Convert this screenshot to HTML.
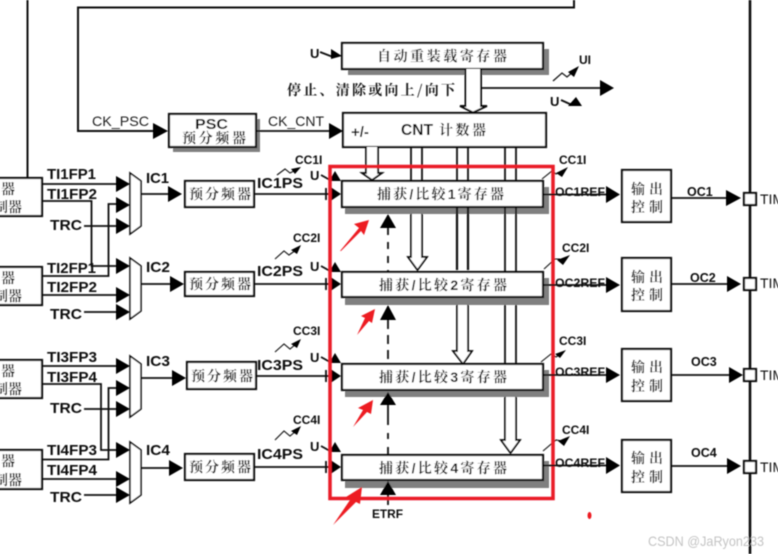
<!DOCTYPE html>
<html>
<head>
<meta charset="utf-8">
<style>
html,body{margin:0;padding:0;background:#fff;width:778px;height:554px;overflow:hidden}
svg{display:block}
.c{font-family:"Noto Serif CJK SC","Liberation Serif",serif;font-size:14px;fill:#1c1c1c;font-weight:700}
.c tspan{font-family:"Liberation Sans",sans-serif;font-weight:bold;fill:#111}
.l{font-family:"Liberation Sans",sans-serif;font-weight:bold;font-size:15px;fill:#111}
.s{font-family:"Liberation Sans",sans-serif;font-weight:bold;font-size:12px;fill:#111}
.w{fill:none;stroke:#111;stroke-width:1.8}
.b{fill:#fff;stroke:#111;stroke-width:2.2}
.sh{fill:#808080}
.h{fill:#000}
.d{fill:#fff;stroke:#111;stroke-width:1.8}
</style>
</head>
<body>
<svg width="778" height="554" viewBox="0 0 778 554" xmlns="http://www.w3.org/2000/svg">
<defs><filter id="bl" x="-2%" y="-2%" width="104%" height="104%"><feGaussianBlur stdDeviation="0.45"/></filter></defs>
<g filter="url(#bl)">
<!-- top wires -->
<path class="w" style="stroke-width:2" d="M27.5 0V178"/>
<path class="w" style="stroke-width:2" d="M574 0V7.5H78V131H155"/>
<path class="h" d="M153 123L168 131L153 139Z"/>
<path class="w" d="M750 0V554" style="stroke-width:2.6"/>

<!-- reload box -->
<rect class="sh" x="348" y="49" width="201" height="26"/>
<rect class="b" x="342" y="43" width="201" height="26"/>
<text class="c" x="377" y="61" textLength="130" lengthAdjust="spacing">自动重装载寄存器</text>
<text class="c" x="287" y="95" textLength="168" lengthAdjust="spacing">停止、清除或向上/向下</text>
<text class="s" x="310" y="58" style="font-size:13px">U</text>
<path class="w" d="M320 52L333 57"/><path class="h" d="M331 49L342 56L331 59Z"/>

<!-- reload to cnt double arrow -->
<path class="d" style="stroke-width:2" d="M465.5 69V106H460L473 112.5L487 106H481V69"/>
<path class="w" style="stroke-width:1.8" d="M481 88H601"/>
<path class="h" d="M600 80L614 88L600 96Z"/>
<text class="s" x="579" y="64" style="font-size:12px">UI</text>
<path class="w" style="stroke-width:1.2" d="M553 81L562 73L567 77L574 71"/><path class="h" d="M579 66L574 77L568 72Z"/>
<text class="s" x="550" y="106" style="font-size:13px">U</text>
<path class="w" d="M561 100L572 105"/><path class="h" d="M576 97L582 106L568 106Z"/>

<!-- CNT -->
<rect class="b" x="343" y="113" width="203" height="34"/>
<text class="l" x="351" y="137" style="font-size:15px">+/-</text>
<text class="l" x="401" y="135" style="font-size:15.500px" textLength="32" lengthAdjust="spacingAndGlyphs">CNT</text>
<text class="c" x="439" y="135" textLength="47" lengthAdjust="spacing">计数器</text>

<!-- PSC -->
<rect class="sh" x="173" y="119" width="87" height="33"/>
<rect class="b" x="169" y="114" width="87" height="33"/>
<text class="l" x="195" y="129" style="font-size:14.500px" textLength="33" lengthAdjust="spacingAndGlyphs">PSC</text>
<text class="c" x="182" y="143" textLength="64" lengthAdjust="spacing" style="font-size:14px">预分频器</text>
<text x="92" y="126" style="font-family:'Liberation Sans',sans-serif;font-size:14px;fill:#222" textLength="57" lengthAdjust="spacingAndGlyphs">CK_PSC</text>
<text x="268" y="126" style="font-family:'Liberation Sans',sans-serif;font-size:14px;fill:#222" textLength="56" lengthAdjust="spacingAndGlyphs">CK_CNT</text>
<path class="w" d="M256 131H330"/><path class="h" d="M329 123L343 131L329 139Z"/>

<!-- shadows for capture boxes -->
<rect class="sh" x="345" y="187" width="204" height="27"/>
<rect class="sh" x="345" y="278" width="204" height="27"/>
<rect class="sh" x="345" y="370" width="204" height="27"/>
<rect class="sh" x="345" y="461" width="204" height="27"/>

<!-- vertical buses -->
<path class="d" d="M366 147V173H362L372 180L382 173H378V147"/>
<path class="w" d="M411 147V181M422 147V181"/>
<path class="w" d="M457 147V181M468 147V181"/>
<path class="w" d="M505 147V181M516 147V181"/>
<path class="d" d="M411 214V257H408L417.500 270L427 257H422V214"/>
<path class="w" style="stroke-width:2.2" d="M457 208V270M468 208V270"/>
<path class="w" d="M505 208V272M516 208V272"/>
<path class="d" d="M457 305V351H453L463 364L472 351H468V305"/>
<path class="w" d="M505 305V364M516 305V364"/>
<path class="d" d="M505 397V440H501L510.500 453L520 440H516V397"/>

<!-- capture boxes -->
<rect class="b" x="342" y="181" width="201" height="26"/>
<rect class="b" x="342" y="272" width="201" height="25"/>
<rect class="b" x="342" y="364" width="201" height="26"/>
<rect class="b" x="342" y="455" width="201" height="25"/>
<text class="c" x="377" y="199" textLength="127" lengthAdjust="spacing">捕获<tspan>/</tspan>比较<tspan>1</tspan>寄存器</text>
<text class="c" x="379" y="290" textLength="128" lengthAdjust="spacing">捕获<tspan>/</tspan>比较<tspan>2</tspan>寄存器</text>
<text class="c" x="379" y="382" textLength="128" lengthAdjust="spacing">捕获<tspan>/</tspan>比较<tspan>3</tspan>寄存器</text>
<text class="c" x="379" y="473" textLength="128" lengthAdjust="spacing">捕获<tspan>/</tspan>比较<tspan>4</tspan>寄存器</text>

<!-- up arrows and dashes -->
<path class="h" d="M388 214L396 228H380Z"/>
<path class="h" d="M388 305L396 320H380Z"/>
<path class="h" d="M388 392L396 405H380Z"/>
<path class="h" d="M388 481L396 495H380Z"/>
<path class="w" d="M388 228V272" style="stroke-dasharray:7 7"/>
<path class="w" d="M388 320V364" style="stroke-dasharray:9 6"/>
<path class="w" d="M388 405V455" style="stroke-dasharray:20 8 6 8"/>
<path class="w" d="M388 495V505"/>
<text class="s" x="372" y="518" style="font-size:11.500px" textLength="31" lengthAdjust="spacingAndGlyphs">ETRF</text>

<!-- left cut boxes -->
<rect class="b" x="-3" y="178" width="45" height="38"/>
<rect class="b" x="-3" y="267" width="45" height="38"/>
<rect class="b" x="-3" y="360" width="45" height="38"/>
<rect class="b" x="-3" y="450" width="45" height="39"/>
<text class="c" x="1" y="194">器</text><text class="c" x="8" y="212">器</text><text class="c" x="-6" y="212">制</text>
<text class="c" x="1" y="283">器</text><text class="c" x="8" y="301">器</text><text class="c" x="-6" y="301">制</text>
<text class="c" x="1" y="376">器</text><text class="c" x="8" y="394">器</text><text class="c" x="-6" y="394">制</text>
<text class="c" x="1" y="466">器</text><text class="c" x="8" y="485">器</text><text class="c" x="-6" y="485">制</text>

<!-- input wires -->
<path class="w" d="M42 184H118"/>
<path class="w" d="M42 201H91.500V266H118"/>
<path class="w" d="M84 226H118"/>
<path class="w" d="M42 276H108.500V204H118"/>
<path class="w" d="M42 295H118"/>
<path class="w" d="M84 312H118"/>
<path class="w" d="M42 366H118"/>
<path class="w" d="M42 384H101V450H118"/>
<path class="w" d="M84 409H118"/>
<path class="w" d="M42 459.500H108.500V388H118"/>
<path class="w" d="M42 479H118"/>
<path class="w" d="M84 495H118"/>
<path class="h" d="M116 176L130 184L116 192Z"/><path class="h" d="M116 197L130 205L116 213Z"/><path class="h" d="M116 218L130 226L116 234Z"/>
<path class="h" d="M116 258L130 266L116 274Z"/><path class="h" d="M116 287L130 295L116 303Z"/><path class="h" d="M116 304L130 312L116 320Z"/>
<path class="h" d="M116 358L130 366L116 374Z"/><path class="h" d="M116 380L130 388L116 396Z"/><path class="h" d="M116 401L130 409L116 417Z"/>
<path class="h" d="M116 442L130 450L116 458Z"/><path class="h" d="M116 471L130 479L116 487Z"/><path class="h" d="M116 487L130 495L116 503Z"/>

<!-- muxes -->
<path class="b" style="stroke-width:1.6" d="M130 173L141 181V226L130 234Z"/>
<path class="b" style="stroke-width:1.6" d="M130 258L141 266V311L130 319Z"/>
<path class="b" style="stroke-width:1.6" d="M130 356L141 364V409L130 417Z"/>
<path class="b" style="stroke-width:1.6" d="M130 442L141 450V495L130 503Z"/>

<text class="l" x="47" y="179" textLength="49" lengthAdjust="spacingAndGlyphs">TI1FP1</text><text class="l" x="47" y="199" textLength="50" lengthAdjust="spacingAndGlyphs">TI1FP2</text><text class="l" x="50" y="230" textLength="32" lengthAdjust="spacingAndGlyphs">TRC</text>
<text class="l" x="47" y="273" textLength="49" lengthAdjust="spacingAndGlyphs">TI2FP1</text><text class="l" x="47" y="292" textLength="50" lengthAdjust="spacingAndGlyphs">TI2FP2</text><text class="l" x="50" y="319" textLength="32" lengthAdjust="spacingAndGlyphs">TRC</text>
<text class="l" x="47" y="362" textLength="50" lengthAdjust="spacingAndGlyphs">TI3FP3</text><text class="l" x="47" y="382" textLength="50" lengthAdjust="spacingAndGlyphs">TI3FP4</text><text class="l" x="50" y="413" textLength="32" lengthAdjust="spacingAndGlyphs">TRC</text>
<text class="l" x="47" y="455" textLength="50" lengthAdjust="spacingAndGlyphs">TI4FP3</text><text class="l" x="47" y="475" textLength="50" lengthAdjust="spacingAndGlyphs">TI4FP4</text><text class="l" x="50" y="502" textLength="32" lengthAdjust="spacingAndGlyphs">TRC</text>

<!-- IC labels and wires -->
<text class="l" x="146" y="183" textLength="23" lengthAdjust="spacingAndGlyphs">IC1</text><text class="l" x="146" y="272" textLength="24" lengthAdjust="spacingAndGlyphs">IC2</text><text class="l" x="146" y="366" textLength="24" lengthAdjust="spacingAndGlyphs">IC3</text><text class="l" x="146" y="455" textLength="24" lengthAdjust="spacingAndGlyphs">IC4</text>
<path class="w" d="M141 194H170"/><path class="h" d="M168 186L182 194L168 202Z"/>
<path class="w" d="M141 284H172"/><path class="h" d="M170 276L184 284L170 292Z"/>
<path class="w" d="M141 378H174"/><path class="h" d="M172 370L186 378L172 386Z"/>
<path class="w" d="M141 468H171"/><path class="h" d="M169 460L183 468L169 476Z"/>

<rect class="b" x="185" y="181" width="69" height="26"/>
<rect class="b" x="185" y="272" width="69" height="24"/>
<rect class="b" x="187" y="362" width="69" height="27"/>
<rect class="b" x="185" y="454" width="69" height="26"/>
<text class="c" x="189" y="199" textLength="62" lengthAdjust="spacing">预分频器</text>
<text class="c" x="189" y="289" textLength="62" lengthAdjust="spacing">预分频器</text>
<text class="c" x="191" y="381" textLength="62" lengthAdjust="spacing">预分频器</text>
<text class="c" x="189" y="472" textLength="62" lengthAdjust="spacing">预分频器</text>

<text class="l" x="257" y="188" textLength="46" lengthAdjust="spacingAndGlyphs">IC1PS</text>
<text class="l" x="257" y="276" textLength="46" lengthAdjust="spacingAndGlyphs">IC2PS</text>
<text class="l" x="257" y="370" textLength="46" lengthAdjust="spacingAndGlyphs">IC3PS</text>
<text class="l" x="257" y="459" textLength="46" lengthAdjust="spacingAndGlyphs">IC4PS</text>

<path class="w" d="M254 194H330M326 188V200"/><path class="h" d="M329 186L341 194L329 202Z"/>
<path class="w" d="M254 284H330M326 278V290"/><path class="h" d="M329 276L341 284L329 292Z"/>
<path class="w" d="M256 376H330M326 370V382"/><path class="h" d="M329 368L341 376L329 384Z"/>
<path class="w" d="M254 467H330M326 461V473"/><path class="h" d="M329 459L341 467L329 475Z"/>

<!-- U triggers -->
<text class="s" x="310" y="180" style="font-size:13px">U</text><path class="w" d="M321 175L330 180"/><path class="h" d="M335 171L341 181H329Z"/>
<text class="s" x="310" y="271" style="font-size:13px">U</text><path class="w" d="M321 266L330 271"/><path class="h" d="M335 262L341 272H329Z"/>
<text class="s" x="310" y="362" style="font-size:13px">U</text><path class="w" d="M321 357L330 362"/><path class="h" d="M335 353L341 363H329Z"/>
<text class="s" x="310" y="451" style="font-size:13px">U</text><path class="w" d="M321 446L330 451"/><path class="h" d="M335 442L341 452H329Z"/>

<!-- CC left -->
<text class="s" x="295" y="164">CC1I</text><path class="w" style="stroke-width:1.1" d="M277 175L285 169L290 173L296 170"/><path class="h" d="M301 167L295 174L291 169Z"/>
<text class="s" x="293" y="242">CC2I</text><path class="w" style="stroke-width:1.1" d="M275 259L284 251L289 255L296 250"/><path class="h" d="M301 245L297 254L291 250Z"/>
<text class="s" x="293" y="335">CC3I</text><path class="w" style="stroke-width:1.1" d="M275 352L284 344L290 349L296 344"/><path class="h" d="M301 339L297 348L291 344Z"/>
<text class="s" x="293" y="424">CC4I</text><path class="w" style="stroke-width:1.1" d="M275 440L284 431L290 436L296 431"/><path class="h" d="M301 426L297 435L291 431Z"/>

<!-- CC right -->
<text class="s" x="559" y="164">CC1I</text><path class="w" style="stroke-width:1.1" d="M542 179L552 171L556 174L562 171"/><path class="h" d="M568 167L562 177L556 173Z"/>
<text class="s" x="562" y="252">CC2I</text><path class="w" style="stroke-width:1.1" d="M544 269L555 259L560 259"/><path class="h" d="M570 255L563 265L557 260Z"/>
<text class="s" x="559" y="345">CC3I</text><path class="w" style="stroke-width:1.1" d="M541 362L551 354L556 357L561 354"/><path class="h" d="M566 350L560 358L555 354Z"/>
<text class="s" x="562" y="434">CC4I</text><path class="w" style="stroke-width:1.1" d="M543 451L556 440L562 441"/><path class="h" d="M570 436L564 446L558 441Z"/>

<!-- red frame -->
<rect x="330" y="166.500" width="223" height="332" fill="none" stroke="#ea1c28" stroke-width="3.500"/>

<!-- outputs -->
<path class="w" d="M543 194.500H608"/><path class="w" d="M543 285H608"/><path class="w" d="M543 375H608"/><path class="w" d="M543 465.500H608"/>
<text class="s" x="555" y="196" textLength="50" lengthAdjust="spacingAndGlyphs">OC1REF</text>
<text class="s" x="555" y="287" textLength="50" lengthAdjust="spacingAndGlyphs">OC2REF</text>
<text class="s" x="555" y="376" textLength="50" lengthAdjust="spacingAndGlyphs">OC3REF</text>
<text class="s" x="555" y="467" textLength="50" lengthAdjust="spacingAndGlyphs">OC4REF</text>
<path class="h" d="M606 186L620 194.500L606 203Z"/><path class="h" d="M606 277L620 285L606 293Z"/><path class="h" d="M606 367L620 375L606 383Z"/><path class="h" d="M606 457L620 465.500L606 474Z"/>

<rect class="b" x="622" y="170" width="49" height="52"/>
<rect class="b" x="622" y="258" width="49" height="53"/>
<rect class="b" x="622" y="349" width="49" height="52"/>
<rect class="b" x="622" y="440" width="49" height="52"/>
<text class="c" x="631" y="194" textLength="32" lengthAdjust="spacing">输出</text><text class="c" x="631" y="212" textLength="32" lengthAdjust="spacing">控制</text>
<text class="c" x="631" y="282" textLength="32" lengthAdjust="spacing">输出</text><text class="c" x="631" y="300" textLength="32" lengthAdjust="spacing">控制</text>
<text class="c" x="631" y="372" textLength="32" lengthAdjust="spacing">输出</text><text class="c" x="631" y="391" textLength="32" lengthAdjust="spacing">控制</text>
<text class="c" x="631" y="463" textLength="32" lengthAdjust="spacing">输出</text><text class="c" x="631" y="482" textLength="32" lengthAdjust="spacing">控制</text>

<path class="w" d="M671 198H728"/><path class="h" d="M726 190L741 198L726 206Z"/>
<path class="w" d="M671 284H729"/><path class="h" d="M727 276L741 284L727 292Z"/>
<path class="w" d="M671 375H730"/><path class="h" d="M729 367L743 375L729 383Z"/>
<path class="w" d="M671 466H729"/><path class="h" d="M727 458L741 466L727 474Z"/>
<text class="s" x="687" y="196" style="font-size:12.500px">OC1</text>
<text class="s" x="690" y="282" style="font-size:12.500px">OC2</text>
<text class="s" x="691" y="366" style="font-size:12.500px">OC3</text>
<text class="s" x="691" y="457" style="font-size:12.500px">OC4</text>
<rect class="b" x="744" y="193" width="12" height="12"/>
<rect class="b" x="744" y="278" width="12" height="12"/>
<rect class="b" x="744" y="369" width="12" height="12"/>
<rect class="b" x="744" y="461" width="12" height="12"/>
<text class="l" x="760" y="204" style="font-weight:normal;font-size:14px">TIM</text>
<text class="l" x="760" y="288" style="font-weight:normal;font-size:14px">TIM</text>
<text class="l" x="760" y="380" style="font-weight:normal;font-size:14px">TIM</text>
<text class="l" x="760" y="472" style="font-weight:normal;font-size:14px">TIM</text>

<!-- red arrows -->
<path fill="#ed1c24" d="M340 251L359 228L354 224L369 220L364 235L361 231L341 251Z"/>
<path fill="#ed1c24" d="M357 335L365 318L361 316L375 309L372 323L369 321Z"/>
<path fill="#ed1c24" d="M353 427L363 410L358 408L373 400L371 414L367 412Z"/>
<path fill="#ed1c24" d="M333 525L350 500L346 497L362 487L360 504L356 502Z"/>
<ellipse cx="589.500" cy="515.500" rx="2" ry="3.500" fill="#ed1c24"/>

<text x="648" y="546" style="font-family:'Liberation Sans',sans-serif;font-size:14px;fill:#c4c4c4" textLength="116" lengthAdjust="spacingAndGlyphs">CSDN @JaRyon233</text>
</g>
</svg>
</body>
</html>
